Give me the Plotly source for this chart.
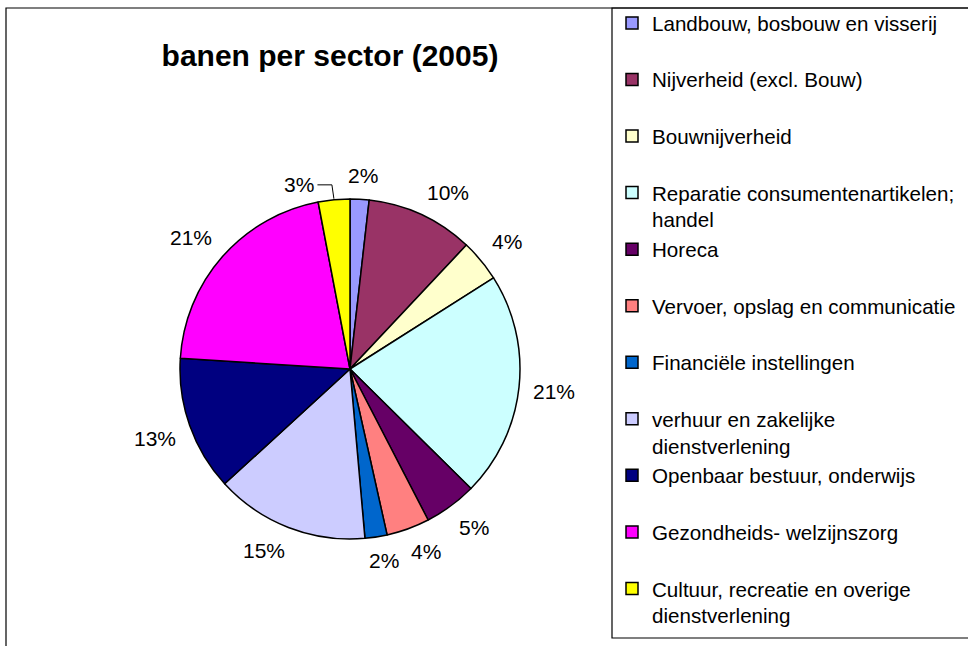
import math
import plotly.graph_objects as go

# ---- data ----
sectors = [
    "Landbouw, bosbouw en visserij",
    "Nijverheid (excl. Bouw)",
    "Bouwnijverheid",
    "Reparatie consumentenartikelen;<br>handel",
    "Horeca",
    "Vervoer, opslag en communicatie",
    "Financiële instellingen",
    "verhuur en zakelijke<br>dienstverlening",
    "Openbaar bestuur, onderwijs",
    "Gezondheids- welzijnszorg",
    "Cultuur, recreatie en overige<br>dienstverlening",
]
shares = [1.8, 10.2, 4.0, 21.4, 5.0, 4.1, 2.1, 14.6, 12.8, 21.0, 3.0]
colors = ["#9999FF", "#993366", "#FFFFCC", "#CCFFFF", "#660066", "#FF8080",
          "#0066CC", "#CCCCFF", "#000080", "#FF00FF", "#FFFF00"]
title_text = "banen per sector (2005)"

# ---- layout helpers (pixel -> paper) ----
W, H = 968, 646
def px(x):
    return x / W
def py(y):
    return 1 - y / H

CX, CY, R = 350, 369, 170
FONT = "Liberation Sans, Arial, sans-serif"
LABEL_SIZE = 21

# every legend entry occupies two lines (like the original)
legend_labels = [s if "<br>" in s else s + "<br> " for s in sectors]

fig = go.Figure(go.Pie(
    labels=legend_labels,
    values=shares,
    marker=dict(colors=colors, line=dict(color="black", width=1.5)),
    sort=False,
    direction="clockwise",
    rotation=0,
    textinfo="none",
    hoverinfo="label+percent",
    domain=dict(x=[px(CX - R), px(CX + R)], y=[py(CY + R), py(CY - R)]),
))

def clamp(v):
    return max(-1.0, min(1.0, v))

# percentage labels outside the slices: the label box touches the slice mid-angle ray
total = sum(shares)
annotations = []
shapes = []
cum = 0.0
D = 184
for i, v in enumerate(shares):
    mid = 360.0 * (cum + v / 2) / total
    cum += v
    pct = round(100 * v / total)
    txt = f"{pct}%"
    w = (0.556 * len(str(pct)) + 0.889) * LABEL_SIZE
    h = 20
    s, c = math.sin(math.radians(mid)), math.cos(math.radians(mid))
    moved = (i == len(shares) - 1)  # small last label moved aside with a leader line
    if moved:
        ang = mid - 10
        lx = CX + 191 * math.sin(math.radians(ang))
        ly = CY - 191 * math.cos(math.radians(ang))
    else:
        lx = CX + D * s + (w / 2) * clamp(2.5 * s)
        ly = CY - D * c - (h / 2) * clamp(2.5 * c)
    annotations.append(dict(
        x=px(lx), y=py(ly), xref="paper", yref="paper",
        text=txt, showarrow=False, xanchor="center", yanchor="middle",
        font=dict(family=FONT, size=LABEL_SIZE, color="black"),
    ))
    if moved:
        ex = CX + (R + 1) * s
        ey = CY - (R + 1) * c
        path = (f"M {px(lx + w / 2 + 3)} {py(ly)} L {px(ex - 2)} {py(ly)} "
                f"L {px(ex)} {py(ey)}")
        shapes.append(dict(type="path", xref="paper", yref="paper", path=path,
                           line=dict(color="black", width=1)))

# chart border and legend border
shapes.append(dict(type="rect", xref="paper", yref="paper",
                   x0=px(6), y0=py(8), x1=px(990), y1=py(680),
                   line=dict(color="black", width=1.2)))
shapes.append(dict(type="rect", xref="paper", yref="paper",
                   x0=px(612), y0=py(8), x1=px(990), y1=py(638),
                   line=dict(color="black", width=1.2)))

fig.update_layout(
    width=W, height=H,
    margin=dict(l=0, r=0, t=0, b=0, autoexpand=False),
    paper_bgcolor="white",
    plot_bgcolor="white",
    title=dict(text=f"<b>{title_text}</b>", x=px(330), y=py(55),
               xanchor="center", yanchor="middle", xref="paper", yref="paper",
               font=dict(family=FONT, size=30, color="black")),
    showlegend=True,
    legend=dict(x=px(612), y=py(3), xanchor="left", yanchor="top",
                font=dict(family=FONT, size=20.6, color="black"),
                valign="top", bgcolor="rgba(0,0,0,0)", borderwidth=0,
                traceorder="normal"),
    annotations=annotations,
    shapes=shapes,
)

fig.write_html("out.html", config={"displayModeBar": False},
               post_script="document.body.style.margin='0px';")
